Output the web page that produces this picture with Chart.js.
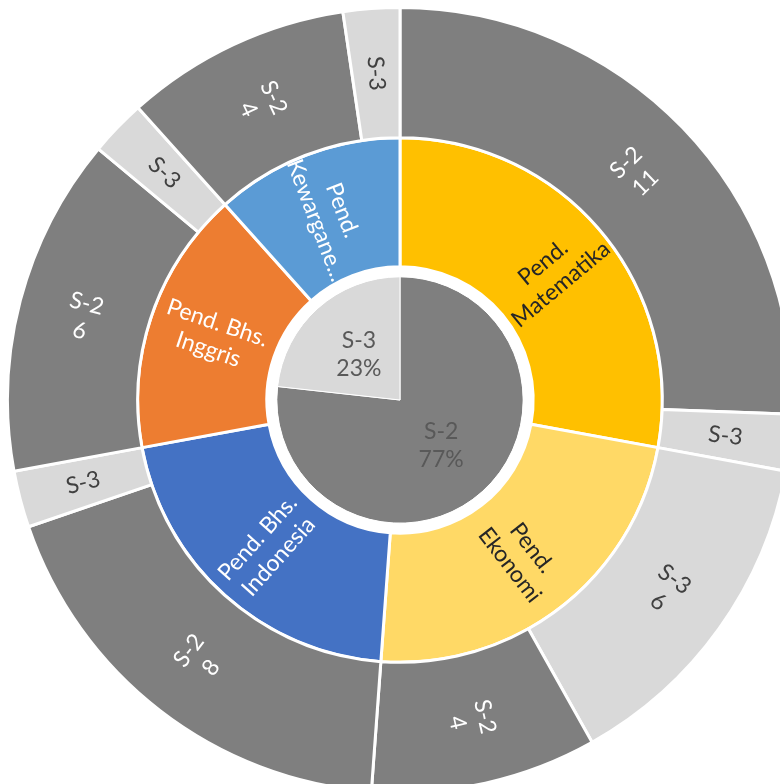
<!DOCTYPE html>
<html>
<head>
<meta charset="utf-8">
<script src="https://cdn.jsdelivr.net/npm/chart.js@4.4.0/dist/chart.umd.min.js"></script>
<style>
    html, body { margin: 0; padding: 0; background: #fff; overflow: hidden; }
    #wrap { position: absolute; left: 0; top: 0; width: 800px; height: 800px; }
</style>
</head>
<body>
<div id="wrap"><canvas id="canvas1" width="800" height="800"></canvas></div>
<script>
// data
var departments = ["Pend. Matematika", "Pend. Ekonomi", "Pend. Bhs. Indonesia", "Pend. Bhs. Inggris", "Pend. Kewarganegaraan"];
var deptColors = ["#FFC000", "#FFD966", "#4472C4", "#ED7D31", "#5B9BD5"];
var deptTextColors = ["#262626", "#262626", "#FFFFFF", "#FFFFFF", "#FFFFFF"];
var levels = ["S-2", "S-3"];
var levelColors = ["#7F7F7F", "#D9D9D9"];
var levelTextColors = ["#FFFFFF", "#404040"];
var s2Count = [11, 4, 8, 6, 4];
var s3Count = [1, 6, 1, 1, 1];

var FONT = "23px Lato";
var LINE_H = 28;

// outer ring: per department, biggest level first
var outerNames = [], outerValues = [], outerColors = [], outerText = [];
departments.forEach(function (d, i) {
    var parts = [[0, s2Count[i]], [1, s3Count[i]]];
    parts.sort(function (a, b) { return b[1] - a[1]; });
    parts.forEach(function (p) {
        outerNames.push(levels[p[0]]);
        outerValues.push(p[1]);
        outerColors.push(levelColors[p[0]]);
        outerText.push(levelTextColors[p[0]]);
    });
});

var deptTotals = departments.map(function (d, i) { return s2Count[i] + s3Count[i]; });
var levelTotals = [
    s2Count.reduce(function (a, b) { return a + b; }, 0),
    s3Count.reduce(function (a, b) { return a + b; }, 0)
];
var grand = levelTotals[0] + levelTotals[1];

function wrapText(ctx, text, maxW) {
    var words = text.split(" "), lines = [], cur = "";
    words.forEach(function (w) {
        var t = cur ? cur + " " + w : w;
        if (ctx.measureText(t).width <= maxW || !cur) { cur = t; }
        else { lines.push(cur); cur = w; }
    });
    if (cur) lines.push(cur);
    return lines.map(function (l) {
        if (ctx.measureText(l).width <= maxW) return l;
        var s = l;
        while (s.length > 1 && ctx.measureText(s + "...").width > maxW) s = s.slice(0, -1);
        return s + "...";
    });
}

var sunburstLabels = {
    id: "sunburstLabels",
    afterDatasetsDraw: function (chart) {
        var ctx = chart.ctx;
        ctx.save();
        ctx.font = FONT;
        ctx.textAlign = "center";
        ctx.textBaseline = "middle";
        chart.data.datasets.forEach(function (ds, di) {
            if (!ds.ringLabels) return;
            var meta = chart.getDatasetMeta(di);
            meta.data.forEach(function (arc, i) {
                var p = arc.getProps(["x", "y", "startAngle", "endAngle", "innerRadius", "outerRadius"], true);
                var mid = (p.startAngle + p.endAngle) / 2;
                var r = p.innerRadius === 0 ? p.outerRadius * 0.5 : (p.innerRadius + p.outerRadius) / 2;
                var lines = ds.ringLabels(ctx, i, (p.endAngle - p.startAngle) * r, p.outerRadius - p.innerRadius);
                var rot = 0;
                if (ds.rotateLabels) rot = mid > Math.PI / 2 ? mid - Math.PI : mid;
                ctx.save();
                ctx.translate(p.x + Math.cos(mid) * r, p.y + Math.sin(mid) * r);
                ctx.rotate(rot);
                ctx.fillStyle = ds.labelColors[i];
                lines.forEach(function (l, k) {
                    ctx.fillText(l, 0, (k - (lines.length - 1) / 2) * LINE_H);
                });
                ctx.restore();
            });
        });
        ctx.restore();
    }
};

new Chart(document.getElementById("canvas1"), {
    type: "doughnut",
    data: {
        labels: outerNames,
        datasets: [{
            data: outerValues,
            backgroundColor: outerColors,
            borderColor: "#FFFFFF",
            borderWidth: 3,
            hoverBorderWidth: 3,
            weight: 130,
            rotateLabels: true,
            labelColors: outerText,
            ringLabels: function (ctx, i, arcLen) {
                return arcLen > 60 ? [outerNames[i], String(outerValues[i])] : [outerNames[i]];
            }
        }, {
            data: deptTotals,
            backgroundColor: deptColors,
            borderColor: "#FFFFFF",
            borderWidth: 3,
            hoverBorderWidth: 3,
            weight: 129,
            rotateLabels: true,
            labelColors: deptTextColors,
            ringLabels: function (ctx, i, arcLen, width) {
                return wrapText(ctx, departments[i], width + 4);
            }
        }, {
            data: [1],
            backgroundColor: "#FFFFFF",
            borderWidth: 0,
            hoverBorderWidth: 0,
            weight: 10
        }, {
            data: levelTotals,
            backgroundColor: levelColors,
            borderColor: "#FFFFFF",
            borderWidth: 1,
            hoverBorderWidth: 1,
            weight: 123,
            rotateLabels: false,
            labelColors: ["#595959", "#595959"],
            ringLabels: function (ctx, i) {
                return [levels[i], Math.round(levelTotals[i] / grand * 100) + "%"];
            }
        }]
    },
    options: {
        responsive: false,
        animation: false,
        cutout: 0,
        hoverOffset: 0,
        layout: { padding: 6 },
        plugins: {
            legend: { display: false },
            tooltip: { enabled: false }
        }
    },
    plugins: [sunburstLabels]
});
</script>
</body>
</html>
